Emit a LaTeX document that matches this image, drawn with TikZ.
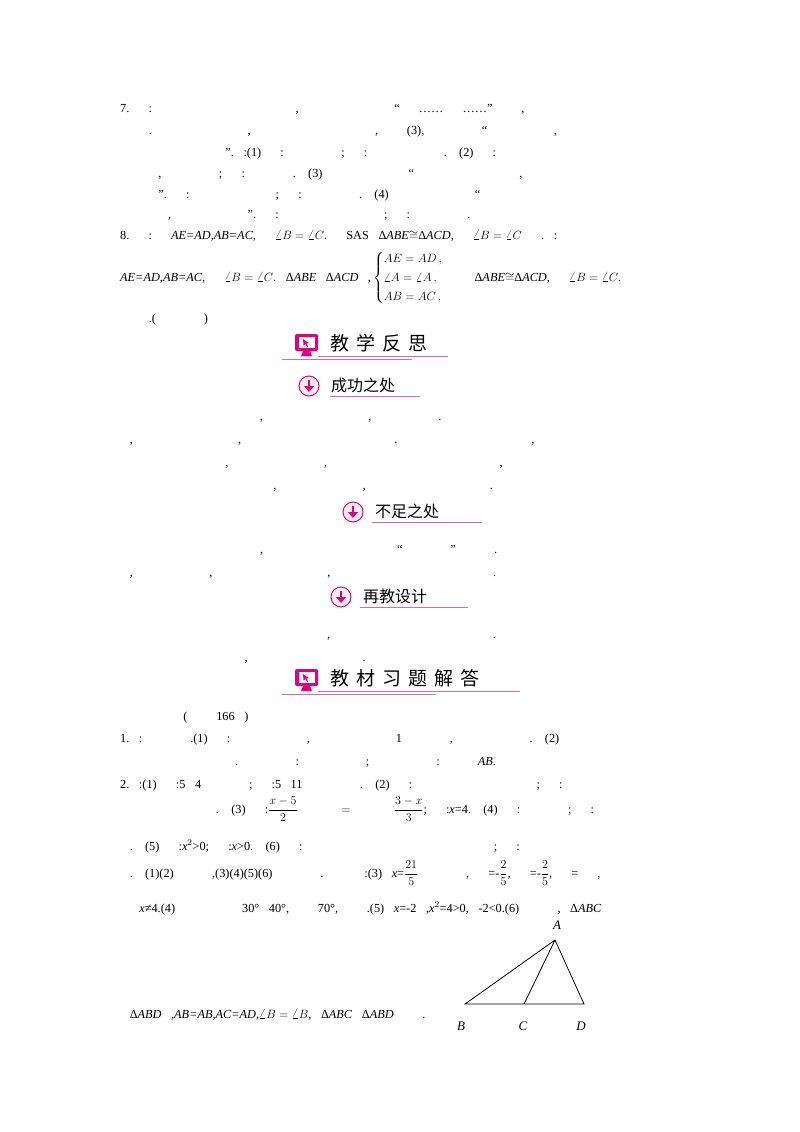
\documentclass[tikz,border=0pt]{standalone}
\usepackage{amsmath}
\usepackage{fontspec}
\setmainfont{Liberation Serif}
\newfontfamily\cjk{Noto Sans CJK SC}
\XeTeXinterchartokenstate=1
\XeTeXinterchartoks 0 1 = {\cjk}
\XeTeXinterchartoks 0 2 = {\cjk}
\XeTeXinterchartoks 0 3 = {\cjk}
\XeTeXinterchartoks 4095 1 = {\cjk}
\XeTeXinterchartoks 4095 2 = {\cjk}
\XeTeXinterchartoks 4095 3 = {\cjk}
\XeTeXinterchartoks 1 0 = {\rmfamily}
\XeTeXinterchartoks 2 0 = {\rmfamily}
\XeTeXinterchartoks 3 0 = {\rmfamily}
\XeTeXlinebreaklocale "zh"
\XeTeXlinebreakskip=0pt plus 2pt
\definecolor{mag}{RGB}{228,0,127}
\definecolor{lpink}{RGB}{214,110,165}
\newcommand\JL[3][120]{\node[txt] at (#1,#2) {\makebox[\dimexpr680pt-#1pt\relax][s]{#3}};}
\newcommand\NL[3][120]{\node[txt] at (#1,#2) {#3};}
\newcommand\Tri{\textrm{Δ}}
\newcommand\QQ{\quad{}}
\begin{document}
\begin{tikzpicture}[x=1pt,y=-1pt,
  txt/.style={anchor=base west,inner sep=0pt,font=\fontsize{12.3}{14}\selectfont},
  hd/.style={anchor=west,inner sep=0pt,font=\fontsize{19}{20}\cjk},
  hs/.style={anchor=west,inner sep=0pt,font=\fontsize{16}{18}\cjk},
  pl/.style={lpink,line width=1pt}]
\useasboundingbox (0,0) rectangle (800,1132);
\fill[white] (0,0) rectangle (800,1132);
% section 7
\JL{112}{7.解析:对于条件和结论不十分分明的命题,我们可以先把其改写成“如果……那么……”的形式,再找出条件}
\JL{134}{和结论.由于命题的改法不唯一,所以它的条件和结论也不唯一,如命题(3),还可以改写成“如果两个角相等,}
\JL{156}{那么这两个角的补角相等”.解:(1)条件:两条直线相交;结论:它们只有一个交点.\QQ(2)条件:两条直线被第三条}
\JL{177}{直线所截,同旁内角互补;结论:两直线平行.\QQ(3)这个命题可以改写成“如果两个角是等角的补角,那么这两}
\JL{198}{个角相等”.条件:两个角是等角的补角;结论:这两个角相等.\QQ(4)这个命题可以改写成“如果一个四边形是}
\NL{218}{平行四边形,那么它的对边相等”.条件:一个四边形是平行四边形;结论:它的对边相等.}
\NL{239}{8.解析:如果\textit{AE=AD,AB=AC},那么$\angle B=\angle C$.根据SAS得\Tri\textit{ABE}$\cong$\Tri\textit{ACD},推出$\angle B=\angle C$即可.解:如果}
\NL{281}{\textit{AE=AD,AB=AC},那么$\angle B=\angle C$.在\Tri\textit{ABE}和\Tri\textit{ACD}中,\,$\begin{cases}AE=AD\,,\\[2pt]\angle A=\angle A\,,\\[2pt]AB=AC\,,\end{cases}$所以\Tri\textit{ABE}$\cong$\Tri\textit{ACD},所以$\angle B=\angle C$.所以这是}
\NL{322}{真命题.(答案不唯一)}
% header 教学反思
\fill[mag,rounded corners=2pt] (295,334) rectangle (318,351);
\fill[white] (298.5,337) rectangle (314.5,348);
\fill[mag] (303,351) -- (310,351) -- (312,356) -- (301,356) -- cycle;
\fill[mag] (303,339) -- (309,343) -- (306.5,343.5) -- (308,346.5) -- (307,347) -- (305.5,344) -- (303.5,345.5) -- cycle;
\node[hd] (h1) at (330,343) {教\hspace{7pt}学\hspace{7pt}反\hspace{7pt}思};
\draw[pl] (318,356) -- (448,356);
\draw[pl] (282,359) -- (412,359);
% 成功之处
\draw[mag,line width=1pt,fill=pink!25] (309,386) circle (10);
\draw[mag,line width=2.2pt] (309,380) -- (309,387);
\fill[mag] (304,386) -- (314,386) -- (309,392) -- cycle;
\node[hs] (h2) at (331,385) {成功之处};
\draw[pl] (330,396) -- (420,396);
\JL[145]{420}{教学中以学生自主探索为主,通过回忆以前学过的知识,了解定义的含义.通过学生的自主探索、合作交}
\JL{443}{流,归纳出命题的条件和结论,加深了学生对命题结构的理解与记忆.整个教学过程中以学生讨论为主,极大地}
\JL{466}{调动了学生学习的积极性,激发了学生学习的兴趣,在集体和小组的争辩中理解和掌握了知识,在教学中教师}
\NL{489}{要加强对已经学过的相关知识的梳理,加深对新知识的认识,逐渐形成对知识的迁移与应用.}
% 不足之处
\draw[mag,line width=1pt,fill=pink!25] (353,512) circle (10);
\draw[mag,line width=2.2pt] (353,506) -- (353,513);
\fill[mag] (348,512) -- (358,512) -- (353,518) -- cycle;
\node[hs] (h3) at (375,511) {不足之处};
\draw[pl] (372,522) -- (482,522);
\JL[145]{553}{一个命题的表述方式有多种,不能在教学的过程中死板地强调“条件和结论”这种格式.同时还应该强}
\NL{576}{调,一个命题是否正确,与这个命题的表述方式无关,应该看这个命题是否得到证明或者公认.}
% 再教设计
\draw[mag,line width=1pt,fill=pink!25] (341,597) circle (10);
\draw[mag,line width=2.2pt] (341,591) -- (341,598);
\fill[mag] (336,597) -- (346,597) -- (341,603) -- cycle;
\node[hs] (h4) at (363,596) {再教设计};
\draw[pl] (360,607) -- (468,607);
\JL[145]{638}{本课时的重点不是让学生深刻领会某些概念,而是帮助学生认识到理解概念的重要性.本课时的重点就}
\NL{661}{要放在理解命题及其真假方面,而不是判断一些命题的真假.}
% 教材习题解答
\fill[mag,rounded corners=2pt] (295,669) rectangle (318,686);
\fill[white] (298.5,672) rectangle (314.5,683);
\fill[mag] (303,686) -- (310,686) -- (312,691) -- (301,691) -- cycle;
\fill[mag] (303,674) -- (309,678) -- (306.5,678.5) -- (308,681.5) -- (307,682) -- (305.5,679) -- (303.5,680.5) -- cycle;
\node[hd] (h5) at (330,678) {教\hspace{7pt}材\hspace{7pt}习\hspace{7pt}题\hspace{7pt}解\hspace{7pt}答};
\draw[pl] (318,691) -- (520,691);
\draw[pl] (282,694) -- (436,694);
% exercises
\NL[145]{720}{随堂练习(教材第166页)}
\JL{742}{1.解:答案不唯一.(1)例如:只含有一个未知数,并且未知数的次数是1的整式方程,叫做一元一次方程.\QQ(2)判}
\NL{765}{断一件事情的句子叫做命题.是命题的语句:自然数不是负数;不是命题的语句:延长线段\textit{AB}.}
\JL{788}{2.解:(1)条件:5月4日是星期一;结论:5月11日也是星期一.\QQ(2)条件:一个三角形的三个内角都相等;结论:这}
\JL{813}{个三角形是等边三角形.\QQ(3)条件:$\dfrac{x-5}{2}=\dfrac{3-x}{3}$;结论:\textit{x}=4.\QQ(4)条件:有两个锐角;结论:这两个锐角的和是钝}
\JL{850}{角.\QQ(5)条件:\textit{x}$^2$>0;结论:\textit{x}>0.\QQ(6)条件:两个三角形的两边及其中一组等边的对角相等;结论:这两个三角形全}
\JL{877}{等.\QQ(1)(2)是真命题,(3)(4)(5)(6)都是假命题.\quad{}举反例:(3)把\textit{x}=$\dfrac{21}{5}$代入原方程,左边=-$\dfrac{2}{5}$,右边=-$\dfrac{2}{5}$,左边=右边,}
\JL{912}{所以\textit{x}≠4.(4)两个锐角分别为30°和40°,其和为70°,是锐角.(5)当\textit{x}=-2时,\textit{x}$^2$=4>0,而-2<0.(6)如图所示,在\Tri\textit{ABC}}
\NL{1018}{和\Tri\textit{ABD}中,\textit{AB=AB,AC=AD},$\angle B=\angle B$,但\Tri\textit{ABC}与\Tri\textit{ABD}不全等.}
% figure
\coordinate (A) at (555,940);
\coordinate (B) at (465,1004);
\coordinate (C) at (524,1004);
\coordinate (D) at (584,1004);
\draw[line width=0.8pt] (B) -- (A) -- (D) -- cycle (A) -- (C);
\node[font=\fontsize{13}{14}\selectfont\itshape] (lA) at (557,925) {A};
\node[font=\fontsize{13}{14}\selectfont\itshape] (lB) at (461,1026) {B};
\node[font=\fontsize{13}{14}\selectfont\itshape] (lC) at (523,1026) {C};
\node[font=\fontsize{13}{14}\selectfont\itshape] (lD) at (581,1026) {D};
\end{tikzpicture}
\end{document}
